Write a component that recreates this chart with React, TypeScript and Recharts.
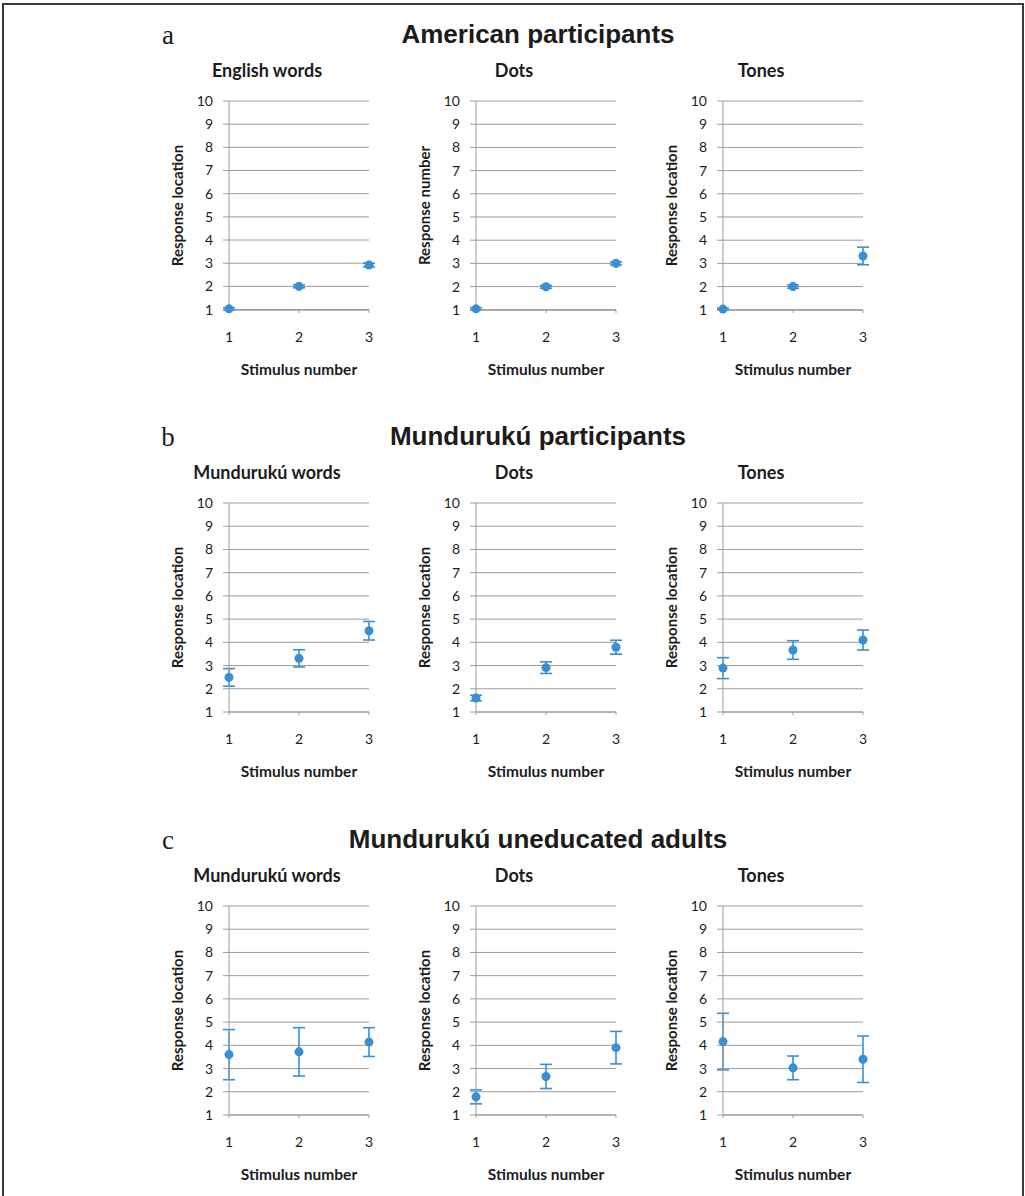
import React from 'react';
import { ScatterChart, Scatter, XAxis, YAxis, CartesianGrid, ErrorBar, Label } from 'recharts';

// ---- data ----
const stimulusNumbers = [1, 2, 3];
const responseTicks = [1, 2, 3, 4, 5, 6, 7, 8, 9, 10];

const groupTitles = ['American participants', 'Mundurukú participants', 'Mundurukú uneducated adults'];
const groupLetters = ['a', 'b', 'c'];

const conditionTitles = [
  ['English words', 'Dots', 'Tones'],
  ['Mundurukú words', 'Dots', 'Tones'],
  ['Mundurukú words', 'Dots', 'Tones'],
];
const yAxisTitles = [
  ['Response location', 'Response number', 'Response location'],
  ['Response location', 'Response location', 'Response location'],
  ['Response location', 'Response location', 'Response location'],
];

// American participants
const americanWordsMean = [1.03, 2.0, 2.92];
const americanWordsErr = [0.05, 0.06, 0.08];
const americanDotsMean = [1.04, 1.99, 3.0];
const americanDotsErr = [0.05, 0.06, 0.07];
const americanTonesMean = [1.03, 2.0, 3.32];
const americanTonesErr = [0.04, 0.07, 0.38];

// Mundurukú participants
const mundurukuWordsMean = [2.49, 3.31, 4.5];
const mundurukuWordsErr = [0.38, 0.37, 0.4];
const mundurukuDotsMean = [1.6, 2.91, 3.79];
const mundurukuDotsErr = [0.12, 0.25, 0.3];
const mundurukuTonesMean = [2.89, 3.67, 4.1];
const mundurukuTonesErr = [0.45, 0.4, 0.43];

// Mundurukú uneducated adults
const uneducatedWordsMean = [3.6, 3.72, 4.14];
const uneducatedWordsErr = [1.08, 1.04, 0.62];
const uneducatedDotsMean = [1.78, 2.66, 3.9];
const uneducatedDotsErr = [0.3, 0.52, 0.7];
const uneducatedTonesMean = [4.16, 3.03, 3.4];
const uneducatedTonesErr = [1.22, 0.51, 1.0];

const seriesGrid = [
  [[americanWordsMean, americanWordsErr], [americanDotsMean, americanDotsErr], [americanTonesMean, americanTonesErr]],
  [[mundurukuWordsMean, mundurukuWordsErr], [mundurukuDotsMean, mundurukuDotsErr], [mundurukuTonesMean, mundurukuTonesErr]],
  [[uneducatedWordsMean, uneducatedWordsErr], [uneducatedDotsMean, uneducatedDotsErr], [uneducatedTonesMean, uneducatedTonesErr]],
];

// ---- styling / layout ----
const BLUE = '#3a8fd3';
const GRID = '#9c9c9c';
const TEXT = '#1c1c1c';
const SANS = 'Lato, "Open Sans", sans-serif';
const ARIAL = '"Liberation Sans", Arial, sans-serif';
const SERIF = '"Liberation Serif", "DejaVu Serif", serif';

const ROW_PLOT_TOP = [101, 503, 906];
const COL_PLOT_LEFT = [229, 476, 723];
const PLOT_W = 140;
const PLOT_H = 209;
const LEFT_PAD = 70;
const TOP_PAD = 10;
const RIGHT_PAD = 15;
const BOTTOM_PAD = 75;

const YLabel = (text: string) => () => (
  <text
    x={18}
    y={TOP_PAD + PLOT_H / 2}
    transform={`rotate(-90, 18, ${TOP_PAD + PLOT_H / 2})`}
    textAnchor="middle"
    dominantBaseline="central"
    fontFamily={SANS}
    fontWeight={700}
    fontSize={15}
    fill={TEXT}
  >
    {text}
  </text>
);

const XLabel = () => (
  <text
    x={LEFT_PAD + PLOT_W / 2}
    y={TOP_PAD + PLOT_H + 59}
    textAnchor="middle"
    dominantBaseline="central"
    fontFamily={SANS}
    fontWeight={700}
    fontSize={15.5}
    fill={TEXT}
  >
    Stimulus number
  </text>
);

function Panel({ row, col }: { row: number; col: number }) {
  const [means, errs] = seriesGrid[row][col];
  const data = stimulusNumbers.map((x, i) => ({ x, y: means[i], err: errs[i] }));
  const left = COL_PLOT_LEFT[col] - LEFT_PAD;
  const top = ROW_PLOT_TOP[row] - TOP_PAD;
  const width = LEFT_PAD + PLOT_W + RIGHT_PAD;
  const height = TOP_PAD + PLOT_H + BOTTOM_PAD;
  return (
    <div style={{ position: 'absolute', left, top, width, height }}>
      <ScatterChart width={width} height={height} margin={{ top: TOP_PAD, right: RIGHT_PAD, bottom: 0, left: 0 }}>
        <CartesianGrid vertical={false} stroke={GRID} strokeWidth={1} />
        <XAxis
          type="number"
          dataKey="x"
          domain={[1, 3]}
          ticks={stimulusNumbers}
          height={BOTTOM_PAD}
          axisLine={{ stroke: GRID }}
          tickLine={{ stroke: GRID }}
          tickSize={3}
          tickMargin={19}
          tick={{ fill: TEXT, fontSize: 14, fontFamily: SANS }}
          allowDecimals={false}
        >
          <Label content={XLabel} />
        </XAxis>
        <YAxis
          type="number"
          dataKey="y"
          domain={[1, 10]}
          ticks={responseTicks}
          width={LEFT_PAD}
          axisLine={{ stroke: GRID }}
          tickLine={{ stroke: GRID }}
          tickSize={6}
          tickMargin={10}
          tick={{ fill: TEXT, fontSize: 14, fontFamily: SANS }}
          interval={0}
        >
          <Label content={YLabel(yAxisTitles[row][col])} />
        </YAxis>
        <Scatter data={data} fill={BLUE} isAnimationActive={false}>
          <ErrorBar dataKey="err" direction="y" width={6} stroke={BLUE} strokeWidth={1.6} />
        </Scatter>
      </ScatterChart>
    </div>
  );
}

export default function App() {
  return (
    <div style={{ position: 'absolute', left: 0, top: 0, width: 1025, height: 1196, background: '#fff', overflow: 'hidden' }}>
      <div
        style={{
          position: 'absolute',
          left: 2,
          top: 3,
          width: 1018,
          height: 1200,
          borderTop: '2px solid #3a3a3a',
          borderLeft: '2px solid #3a3a3a',
          borderRight: '2px solid #3a3a3a',
        }}
      />
      {groupTitles.map((t, r) => (
        <React.Fragment key={t}>
          <div
            style={{
              position: 'absolute',
              left: 148,
              width: 40,
              top: ROW_PLOT_TOP[r] - 66 - 16,
              height: 32,
              lineHeight: '32px',
              textAlign: 'center',
              fontFamily: SERIF,
              fontSize: 27,
              color: TEXT,
            }}
          >
            {groupLetters[r]}
          </div>
          <div
            style={{
              position: 'absolute',
              left: 338,
              width: 400,
              top: ROW_PLOT_TOP[r] - 67 - 16,
              height: 32,
              lineHeight: '32px',
              textAlign: 'center',
              fontFamily: ARIAL,
              fontWeight: 700,
              fontSize: 26,
              color: TEXT,
            }}
          >
            {t}
          </div>
          {conditionTitles[r].map((s, c) => (
            <div
              key={c}
              style={{
                position: 'absolute',
                left: COL_PLOT_LEFT[c] + 38 - 100,
                width: 200,
                top: ROW_PLOT_TOP[r] - 31 - 12,
                height: 24,
                lineHeight: '24px',
                textAlign: 'center',
                fontFamily: SANS,
                fontWeight: 700,
                fontSize: 18,
                color: TEXT,
              }}
            >
              {s}
            </div>
          ))}
          {[0, 1, 2].map((c) => (
            <Panel key={`p${c}`} row={r} col={c} />
          ))}
        </React.Fragment>
      ))}
    </div>
  );
}
